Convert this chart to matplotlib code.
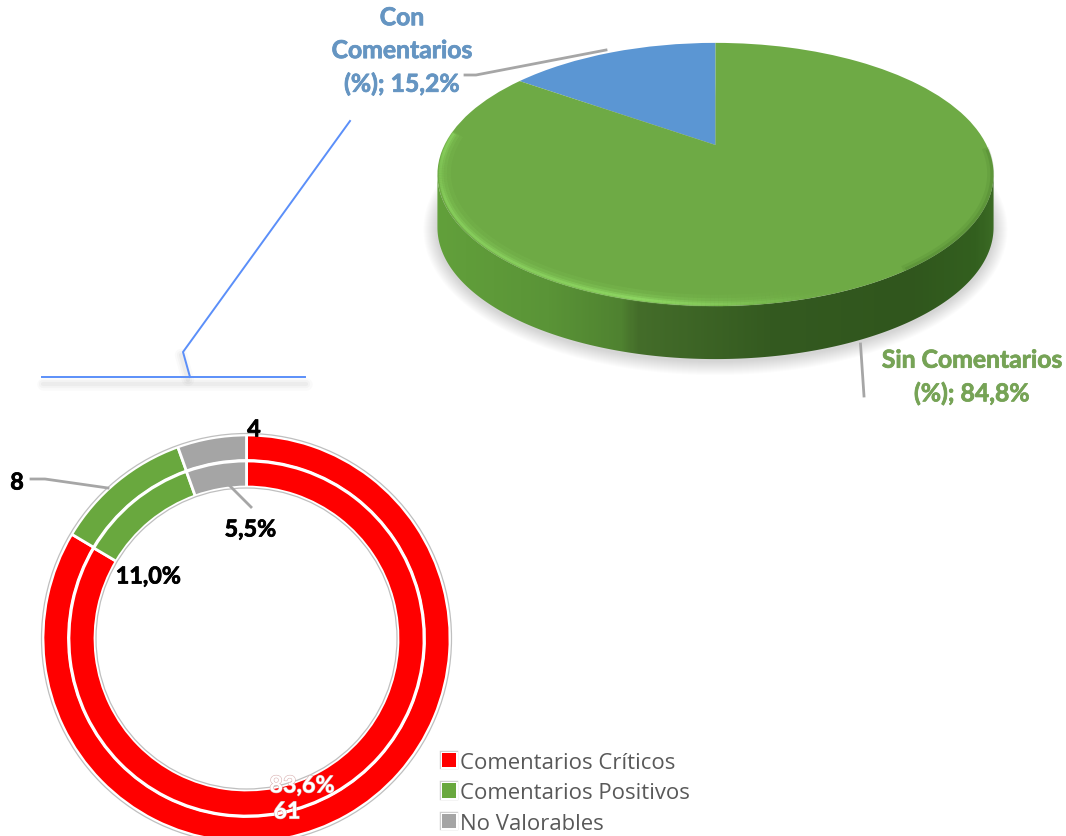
import numpy as np
import matplotlib
matplotlib.use("Agg")
import matplotlib.pyplot as plt
from matplotlib.transforms import Transform
from matplotlib.patches import Polygon, Patch, Circle
from matplotlib.collections import LineCollection
from matplotlib.colors import LinearSegmentedColormap
import matplotlib.patheffects as pe

# ---- data ----
top_labels = ["Con\nComentarios\n(%); 15,2%", "Sin Comentarios\n(%); 84,8%"]
top_shares = [15.2, 84.8]
ring_categories = ["Comentarios Críticos", "Comentarios Positivos", "No Valorables"]
ring_counts = [61, 8, 4]
ring_percent = [83.6, 11.0, 5.5]
count_labels = ["61", "8", "4"]
percent_labels = ["83,6%", "11,0%", "5,5%"]

# ---- style ----
BLUE, GREEN, GRAY, RED = "#5b96d3", "#69a83e", "#a5a5a5", "#ff0000"
ring_colors = [RED, GREEN, GRAY]
W, H = 1066, 837
LABEL_FONT = "Lato"


def Y(py):
    return H - py


def heavy(color, lw=0.55):
    return [pe.withStroke(linewidth=lw, foreground=color)]


fig = plt.figure(figsize=(W / 100, H / 100), dpi=100)
ax = fig.add_axes([0, 0, 1, 1])

# perspective disc parameters
CX, CY, A0, RY, K, DEPTH = 715.5, Y(146), 271.0, 125.0, 0.224, 53


class Disc(Transform):
    input_dims = output_dims = 2
    is_separable = False
    has_inverse = False

    def transform_non_affine(self, xy):
        xy = np.asarray(xy, float)
        w = 1 + K * xy[:, 1]
        return np.column_stack([CX + A0 * xy[:, 0] / w, CY + RY * xy[:, 1] / w])


disc = Disc()
t0 = np.arcsin(-K)
t_low = np.linspace(np.pi - t0, 2 * np.pi + t0, 240)  # left extreme -> bottom -> right extreme
low = disc.transform(np.column_stack([np.cos(t_low), np.sin(t_low)]))
t_all = np.linspace(0, 2 * np.pi, 360)
all_pts = disc.transform(np.column_stack([np.cos(t_all), np.sin(t_all)]))
cen_x, cen_y = all_pts[:, 0].mean(), (all_pts[:, 1].max() + all_pts[:, 1].min()) / 2

# soft shadow below the disc
for s in range(14, 0, -1):
    q = all_pts.copy()
    q[:, 0] = cen_x + (q[:, 0] - cen_x) * (1 + s / 278)
    q[:, 1] = cen_y + (q[:, 1] - cen_y) * (1 + s / 131) - DEPTH - 2
    ax.add_patch(Polygon(q, closed=True, fc="black", ec="none", alpha=0.011, zorder=1))

# side wall
side_poly = np.vstack([low - [0, DEPTH], low[::-1]])
side_patch = Polygon(side_poly, closed=True, fc="none", ec="none", zorder=2)
ax.add_patch(side_patch)
side_cmap = LinearSegmentedColormap.from_list(
    "side",
    [(0, "#62a03b"), (0.2, "#5a9437"), (0.33, "#4f8230"), (0.36, "#446d2a"),
     (0.6, "#345a20"), (0.85, "#30561d"), (0.97, "#33601f"), (1, "#3b6a24")],
)
im = ax.imshow(np.linspace(0, 1, 300)[None, :], cmap=side_cmap, aspect="auto",
               extent=(436, 995, Y(370), Y(170)), zorder=2)
im.set_clip_path(side_patch)

# face of the disc, wedges from the data
wedges, _ = ax.pie(top_shares, colors=[BLUE, "#6eaa45"], startangle=90,
                   counterclock=True, radius=1.0, center=(0, 0),
                   wedgeprops=dict(linewidth=0))
for w in wedges:
    w.set_transform(disc + ax.transData)
    w.set_zorder(3)

# bevel highlight along the lower rim
tr = np.linspace(np.pi * 0.97, 2 * np.pi + 0.05, 260)
for rad, lw, amax in [(0.975, 9, 0.10), (0.982, 6, 0.18), (0.987, 3.5, 0.3), (0.99, 1.8, 0.45)]:
    p = disc.transform(np.column_stack([rad * np.cos(tr), rad * np.sin(tr)]))
    segs = np.stack([p[:-1], p[1:]], axis=1)
    a = np.interp(p[:-1, 0], [436, 445, 560, 640, 720, 800, 860], [0.1, 0.7, 0.8, 1, 0.55, 0.1, 0]) * amax
    cols = np.zeros((len(a), 4))
    cols[:, :3] = matplotlib.colors.to_rgb("#9ae86e")
    cols[:, 3] = a
    ax.add_collection(LineCollection(segs, colors=cols, linewidths=lw, zorder=4, capstyle="butt"))

# dark transition on the right rim
tr2 = np.linspace(-0.95, -0.05, 80)
for rad, lw, al in [(0.99, 5, 0.12), (0.995, 2.5, 0.2)]:
    p = disc.transform(np.column_stack([rad * np.cos(tr2), rad * np.sin(tr2)]))
    ax.plot(p[:, 0], p[:, 1], color="#3a6a22", lw=lw, alpha=al, zorder=4)

# decorative blue line with its shadow
bx = [350, 183, 190]
by = [122, 353, 378]
hx = [42, 305]
hy = [378, 378]
for lw, al in [(9, 0.018), (6, 0.025), (3, 0.03)]:
    ax.plot(np.array(hx) + 1, Y(np.array(hy) + 7), color="black", lw=lw, alpha=al, zorder=1,
            solid_capstyle="round")
    ax.plot(np.array(bx[1:]) - 2, Y(np.array(by[1:]) + 3), color="black", lw=lw, alpha=al, zorder=1,
            solid_capstyle="round")
ax.plot(bx, Y(np.array(by)), color="#5b8ff9", lw=1.4, zorder=5)
ax.plot(hx, Y(np.array(hy)), color="#5b8ff9", lw=1.4, zorder=5)

# top leader lines
ax.plot([465, 476, 606], Y(np.array([76, 76, 51])), color="#a6a6a6", lw=2, zorder=6)
ax.plot([860.5, 864], Y(np.array([345, 397])), color="#a6a6a6", lw=2, zorder=6)

# top labels
ax.text(402, Y(52), top_labels[0], color="#6595c2", ha="center", va="center", ma="center",
        fontsize=17.8, fontweight="bold", family=LABEL_FONT, linespacing=1.52, zorder=7,
        path_effects=heavy("#6595c2"))
ax.text(972, Y(378), top_labels[1], color="#76a356", ha="center", va="center", ma="center",
        fontsize=17.8, fontweight="bold", family=LABEL_FONT, linespacing=1.52, zorder=7,
        path_effects=heavy("#76a356"))

# rings
RC = (246.5, Y(639.5))
ax.pie(ring_counts, colors=ring_colors, startangle=90, counterclock=False, radius=203.5, center=RC,
       wedgeprops=dict(width=25.5, edgecolor="white", linewidth=2, zorder=3))
ax.pie(ring_percent, colors=ring_colors, startangle=90, counterclock=False, radius=177.5, center=RC,
       wedgeprops=dict(width=26, edgecolor="white", linewidth=2, zorder=3))
for r in (205, 150.5):
    ax.add_patch(Circle(RC, r, fc="none", ec="#bfbfbf", lw=0.9, zorder=3))

# ring leader lines
ax.plot([31, 45, 108], Y(np.array([480, 480, 489])), color="#a6a6a6", lw=2, zorder=6)
ax.plot([229, 251], Y(np.array([486, 508])), color="#a6a6a6", lw=2, zorder=6)

# ring labels
for x, y, s in [(17, 484, count_labels[1]), (254, 431, count_labels[2]),
                (148.5, 578, percent_labels[1]), (250.5, 531, percent_labels[2])]:
    ax.text(x, Y(y), s, color="black", ha="center", va="center", fontsize=16.8,
            fontweight="bold", family=LABEL_FONT, zorder=7, path_effects=heavy("black"))
ghost = [pe.withStroke(linewidth=0.8, foreground="#d9b0b0")]
for x, y, s in [(302, 787, percent_labels[0]), (287, 813, count_labels[0])]:
    ax.text(x, Y(y), s, color="white", ha="center", va="center", fontsize=16.8,
            fontweight="bold", family=LABEL_FONT, zorder=7, path_effects=ghost)

# legend
handles = [
    Patch(facecolor=c, edgecolor="none",
          path_effects=[pe.Stroke(linewidth=3.2, foreground="#cfcfcf"),
                        pe.Stroke(linewidth=2.2, foreground="white"), pe.Normal()])
    for c in ring_colors
]
ax.legend(handles, ring_categories, loc="upper left", bbox_to_anchor=(442, Y(753)),
          bbox_transform=ax.transData, frameon=False, handlelength=0.62, handleheight=0.62,
          handletextpad=0.2, labelspacing=0.42, borderpad=0, borderaxespad=0,
          prop=dict(family="Open Sans", size=15.9), labelcolor="#595959")

ax.set_aspect("auto")
ax.set_xlim(0, W)
ax.set_ylim(0, H)
ax.axis("off")
fig.savefig("out.png", dpi=100, facecolor="white")
